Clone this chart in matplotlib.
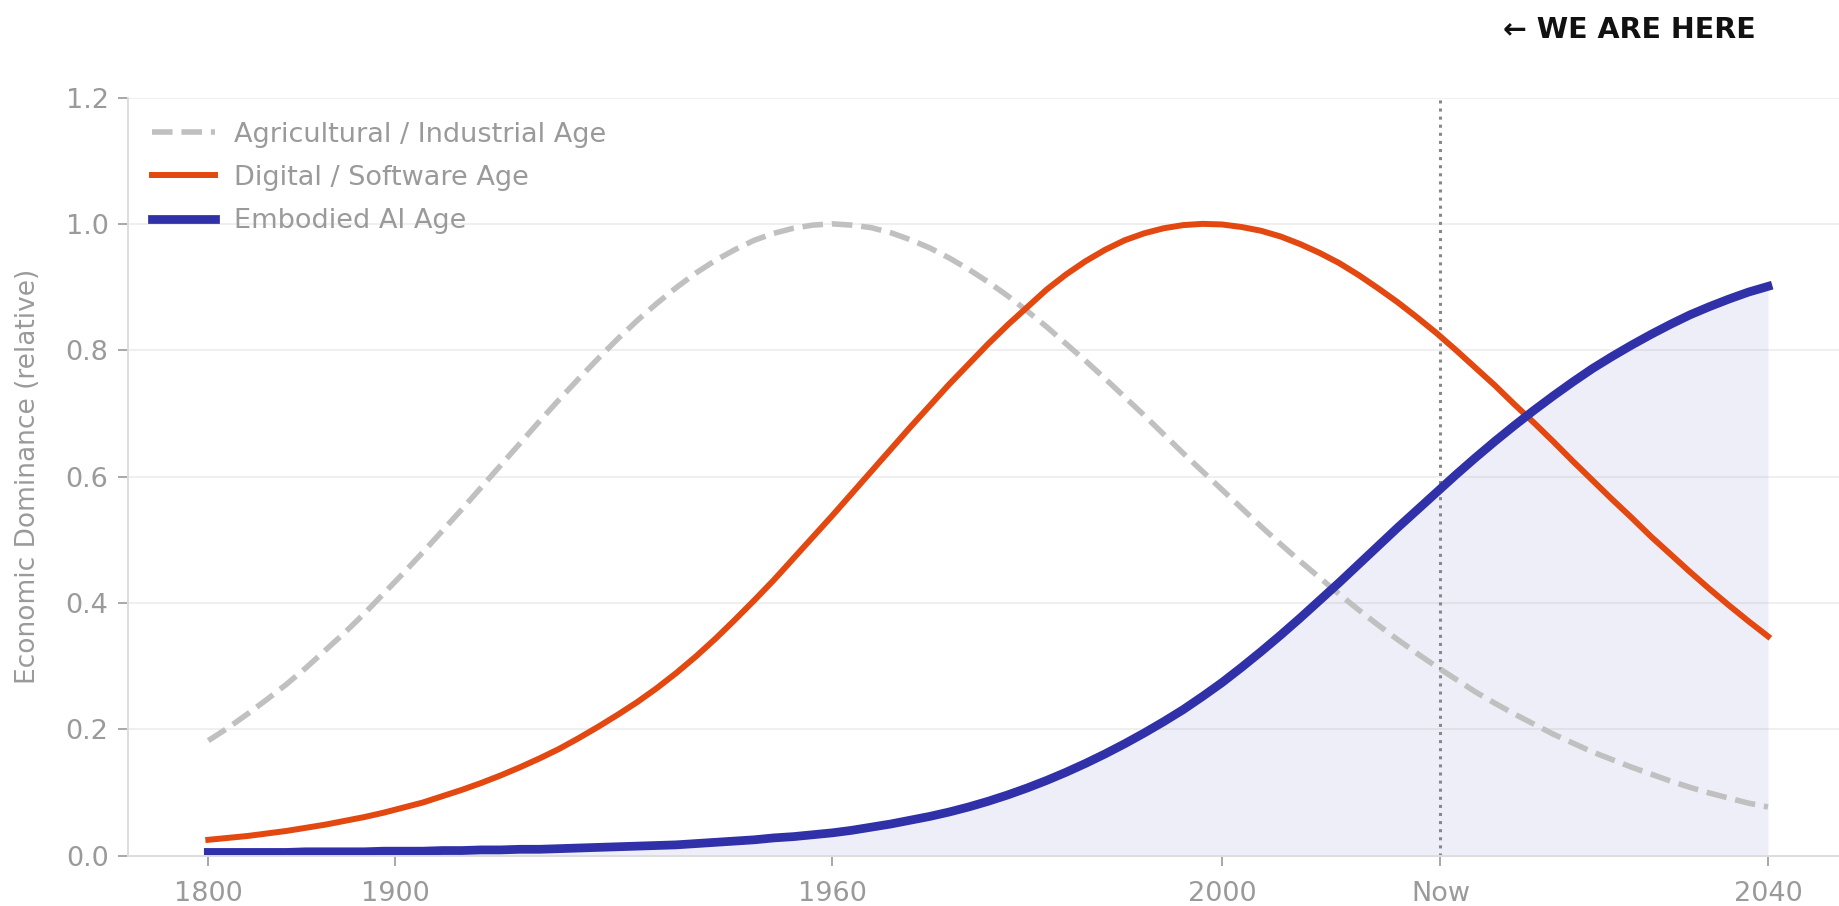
import matplotlib
matplotlib.use("Agg")
import matplotlib.pyplot as plt
import matplotlib.transforms as mtransforms

# position along the timeline (0 = 1800, 100 = 2040), read every 1.25 units
t = [0, 1.25, 2.5, 3.75, 5, 6.25, 7.5, 8.75, 10, 11.25, 12.5, 13.75, 15, 16.25,
     17.5, 18.75, 20, 21.25, 22.5, 23.75, 25, 26.25, 27.5, 28.75, 30, 31.25, 32.5,
     33.75, 35, 36.25, 37.5, 38.75, 40, 41.25, 42.5, 43.75, 45, 46.25, 47.5, 48.75,
     50, 51.25, 52.5, 53.75, 55, 56.25, 57.5, 58.75, 60, 61.25, 62.5, 63.75, 65,
     66.25, 67.5, 68.75, 70, 71.25, 72.5, 73.75, 75, 76.25, 77.5, 78.75, 80, 81.25,
     82.5, 83.75, 85, 86.25, 87.5, 88.75, 90, 91.25, 92.5, 93.75, 95, 96.25, 97.5,
     98.75, 100]

industrial = [0.182, 0.202, 0.224, 0.247, 0.271, 0.297, 0.325, 0.353, 0.383, 0.415,
              0.447, 0.480, 0.514, 0.548, 0.583, 0.618, 0.653, 0.688, 0.722, 0.755,
              0.787, 0.818, 0.847, 0.874, 0.899, 0.922, 0.942, 0.959, 0.974, 0.985,
              0.993, 0.998, 1.000, 0.998, 0.994, 0.986, 0.975, 0.962, 0.946, 0.928,
              0.908, 0.886, 0.862, 0.837, 0.810, 0.783, 0.755, 0.726, 0.697, 0.667,
              0.637, 0.608, 0.579, 0.550, 0.521, 0.493, 0.466, 0.440, 0.414, 0.389,
              0.365, 0.342, 0.320, 0.299, 0.279, 0.259, 0.241, 0.224, 0.208, 0.192,
              0.178, 0.164, 0.152, 0.140, 0.129, 0.118, 0.108, 0.099, 0.091, 0.083,
              0.077]

digital = [0.025, 0.028, 0.031, 0.035, 0.039, 0.044, 0.049, 0.055, 0.061, 0.068,
           0.076, 0.084, 0.094, 0.104, 0.115, 0.127, 0.140, 0.154, 0.169, 0.186,
           0.204, 0.223, 0.243, 0.265, 0.289, 0.315, 0.343, 0.373, 0.404, 0.436,
           0.470, 0.504, 0.538, 0.573, 0.608, 0.643, 0.678, 0.712, 0.746, 0.778,
           0.810, 0.840, 0.868, 0.896, 0.920, 0.941, 0.959, 0.974, 0.985, 0.993,
           0.998, 1.000, 0.999, 0.995, 0.989, 0.980, 0.968, 0.954, 0.938, 0.919,
           0.898, 0.876, 0.852, 0.827, 0.800, 0.772, 0.744, 0.714, 0.685, 0.655,
           0.624, 0.594, 0.564, 0.535, 0.505, 0.477, 0.449, 0.422, 0.396, 0.371,
           0.347]

embodied = [0.005, 0.005, 0.005, 0.005, 0.005, 0.006, 0.006, 0.006, 0.006, 0.007,
            0.007, 0.007, 0.008, 0.008, 0.009, 0.009, 0.010, 0.010, 0.011, 0.012,
            0.013, 0.014, 0.015, 0.016, 0.017, 0.019, 0.021, 0.023, 0.025, 0.028,
            0.030, 0.033, 0.036, 0.040, 0.045, 0.050, 0.056, 0.062, 0.069, 0.077,
            0.086, 0.096, 0.107, 0.119, 0.132, 0.146, 0.161, 0.177, 0.194, 0.212,
            0.231, 0.252, 0.274, 0.298, 0.323, 0.349, 0.376, 0.404, 0.432, 0.461,
            0.490, 0.519, 0.547, 0.575, 0.603, 0.630, 0.656, 0.681, 0.705, 0.728,
            0.750, 0.771, 0.790, 0.808, 0.825, 0.841, 0.856, 0.869, 0.881, 0.892,
            0.901]

tick_pos = [0, 12, 40, 65, 79, 100]
tick_labels = ['1800', '1900', '1960', '2000', 'Now', '2040']
now_pos = 79

gray = '#c0c0c0'
orange = '#e2480f'
blue = '#3030a8'
text_gray = '#9a9a9a'

fig = plt.figure(figsize=(18.4, 9.06), dpi=100)
ax = fig.add_axes([128 / 1840, 50.4 / 906, 1718 / 1840, 758.1 / 906])

ax.fill_between(t, 0, embodied, color=blue, alpha=0.08, lw=0)
ax.plot(t, industrial, color=gray, lw=4, ls='--', label='Agricultural / Industrial Age')
ax.plot(t, digital, color=orange, lw=4.3, label='Digital / Software Age')
ax.plot(t, embodied, color=blue, lw=6.3, label='Embodied AI Age')
ax.axvline(now_pos, color='#888888', lw=2.2, ls=':', zorder=1)

ax.set_xlim(-5.15, 105)
ax.set_ylim(0, 1.2)
ax.set_xticks(tick_pos)
ax.set_xticklabels(tick_labels)
ax.set_yticks([0, 0.2, 0.4, 0.6, 0.8, 1.0, 1.2])
ax.set_yticklabels(['0.0', '0.2', '0.4', '0.6', '0.8', '1.0', '1.2'])
ax.tick_params(axis='both', colors=text_gray, labelsize=19.5, length=7, width=1.2)
ax.tick_params(axis='x', pad=11)
ax.tick_params(axis='y', pad=7)

ax.grid(axis='y', color='#efefef', lw=1.4)
ax.set_axisbelow(True)
for side in ['top', 'right']:
    ax.spines[side].set_visible(False)
for side in ['left', 'bottom']:
    ax.spines[side].set_color('#dddddd')
    ax.spines[side].set_linewidth(1.4)

ax.set_ylabel('Economic Dominance (relative)', color=text_gray, fontsize=19)
ax.yaxis.set_label_coords(-0.0506, 0.5)

leg = ax.legend(loc='upper left', frameon=False, fontsize=19.5, handlelength=2.3,
                handletextpad=0.7, labelspacing=0.63)
for txt in leg.get_texts():
    txt.set_color(text_gray)

trans = mtransforms.blended_transform_factory(ax.transData, ax.transAxes)
ax.text(now_pos + 4, 1.089, '← WE ARE HERE', transform=trans, ha='left', va='center',
        fontsize=20.5, fontweight='bold', color='#111111')

fig.savefig('out.png', dpi=100)
